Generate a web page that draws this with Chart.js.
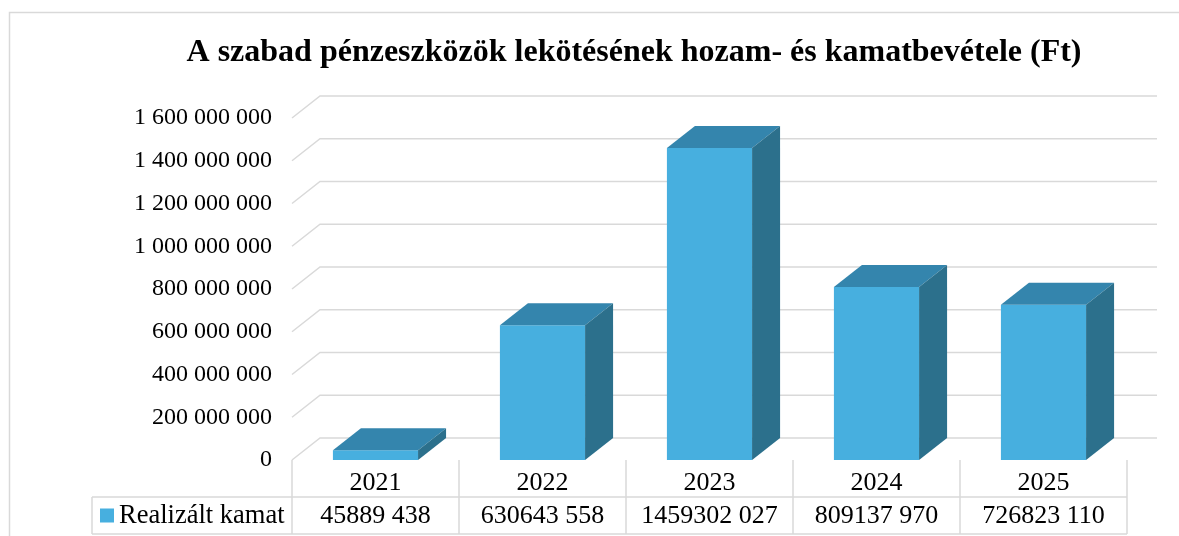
<!DOCTYPE html>
<html><head><meta charset="utf-8">
<script src="https://cdn.jsdelivr.net/npm/chart.js@4/dist/chart.umd.min.js"></script>
<style>html,body{margin:0;padding:0;background:#fff;}#wrap{width:1179px;height:536px;position:relative;}</style>
</head><body><div id="wrap"><canvas id="c" width="1179" height="536"></canvas></div>
<script>
const chartTitle = 'A szabad pénzeszközök lekötésének hozam- és kamatbevétele (Ft)';
const seriesName = 'Realizált kamat';
const categories = ['2021', '2022', '2023', '2024', '2025'];
const values = [45889438, 630643558, 1459302027, 809137970, 726823110];
const yTicks = [0, 200000000, 400000000, 600000000, 800000000, 1000000000, 1200000000, 1400000000, 1600000000];

const FRONT = '#47AFDF', TOP = '#3485AD', SIDE = '#2C708C', GRID = '#D9D9D9';
const SERIF = '"Liberation Serif", "Times New Roman", serif';
const DX = 28, DY = 22;

function fmtTick(v){ return String(v).replace(/\B(?=(\d{3})+(?!\d))/g, ' '); }
function fmtVal(v){ const s = String(v); return s.length > 3 ? s.slice(0, -3) + ' ' + s.slice(-3) : s; }

const threeD = {
  id: 'threeD',
  beforeDraw(chart){
    const ctx = chart.ctx;
    ctx.save();
    ctx.strokeStyle = GRID; ctx.lineWidth = 1.5;
    ctx.strokeRect(9.5, 12.5, 1300, 700);
    ctx.fillStyle = '#000';
    ctx.font = 'bold 32px ' + SERIF;
    ctx.textAlign = 'center'; ctx.textBaseline = 'alphabetic';
    ctx.fillText(chartTitle, 634, 61);
    ctx.restore();
  },
  beforeDatasetsDraw(chart){
    const ctx = chart.ctx, ys = chart.scales.y, a = chart.chartArea;
    ctx.save();
    ctx.strokeStyle = GRID; ctx.lineWidth = 1.5;
    yTicks.forEach(v => {
      const y = ys.getPixelForValue(v);
      ctx.beginPath();
      ctx.moveTo(a.left, y);
      ctx.lineTo(a.left + DX, y - DY);
      ctx.lineTo(a.right + DX + 2, y - DY);
      ctx.stroke();
    });
    ctx.restore();
  },
  afterDatasetsDraw(chart){
    const ctx = chart.ctx;
    const meta = chart.getDatasetMeta(0);
    ctx.save();
    meta.data.forEach(bar => {
      const l = bar.x - bar.width / 2, r = bar.x + bar.width / 2, t = bar.y, b = bar.base;
      ctx.fillStyle = TOP;
      ctx.beginPath();
      ctx.moveTo(l, t); ctx.lineTo(l + DX, t - DY); ctx.lineTo(r + DX, t - DY); ctx.lineTo(r, t);
      ctx.closePath(); ctx.fill();
      ctx.fillStyle = SIDE;
      ctx.beginPath();
      ctx.moveTo(r, t); ctx.lineTo(r + DX, t - DY); ctx.lineTo(r + DX, b - DY); ctx.lineTo(r, b);
      ctx.closePath(); ctx.fill();
    });
    ctx.restore();
  },
  afterDraw(chart){
    const ctx = chart.ctx, xs = chart.scales.x, a = chart.chartArea;
    const n = categories.length, cw = (xs.right - xs.left) / n;
    const rowTop = xs.bottom, rowBot = 534, legL = 92;
    ctx.save();
    ctx.strokeStyle = GRID; ctx.lineWidth = 1.5;
    ctx.beginPath();
    for (let i = 0; i <= n; i++) {
      const x = xs.left + i * cw;
      ctx.moveTo(x, a.bottom); ctx.lineTo(x, rowBot);
    }
    ctx.moveTo(legL, rowTop); ctx.lineTo(xs.right, rowTop);
    ctx.moveTo(legL, rowBot); ctx.lineTo(xs.right, rowBot);
    ctx.moveTo(legL, rowTop); ctx.lineTo(legL, rowBot);
    ctx.stroke();
    const midY = (rowTop + rowBot) / 2;
    ctx.fillStyle = FRONT;
    ctx.fillRect(100, midY - 7, 14, 14);
    ctx.fillStyle = '#000';
    ctx.font = '26.5px ' + SERIF;
    ctx.textAlign = 'left'; ctx.textBaseline = 'middle';
    ctx.fillText(chart.data.datasets[0].label, 119, midY + 1);
    ctx.font = '26px ' + SERIF;
    ctx.textAlign = 'center';
    chart.data.datasets[0].data.forEach((v, i) => {
      ctx.fillText(fmtVal(v), xs.getPixelForValue(i), midY + 1);
    });
    ctx.restore();
  }
};

new Chart(document.getElementById('c'), {
  type: 'bar',
  data: {
    labels: categories,
    datasets: [{ label: seriesName, data: values, backgroundColor: FRONT, borderWidth: 0,
      categoryPercentage: 1, barPercentage: 0.51 }]
  },
  options: {
    responsive: false, animation: false, devicePixelRatio: 1,
    layout: { padding: { top: 118, left: 0, right: 52, bottom: 39 } },
    plugins: { legend: { display: false }, title: { display: false }, tooltip: { enabled: false } },
    scales: {
      y: {
        min: 0, max: 1600000000,
        afterBuildTicks(s){ s.ticks = yTicks.map(v => ({ value: v })); },
        afterFit(s){ s.width = 292; },
        grid: { display: false, drawTicks: false }, border: { display: false },
        ticks: { padding: 20, color: '#000', font: { family: SERIF, size: 24 }, callback: v => fmtTick(v) }
      },
      x: {
        afterFit(s){ s.height = 37; },
        grid: { display: false, drawTicks: false }, border: { display: false },
        ticks: { padding: 8, color: '#000', font: { family: SERIF, size: 26 }, maxRotation: 0 }
      }
    }
  },
  plugins: [threeD]
});
</script></body></html>
